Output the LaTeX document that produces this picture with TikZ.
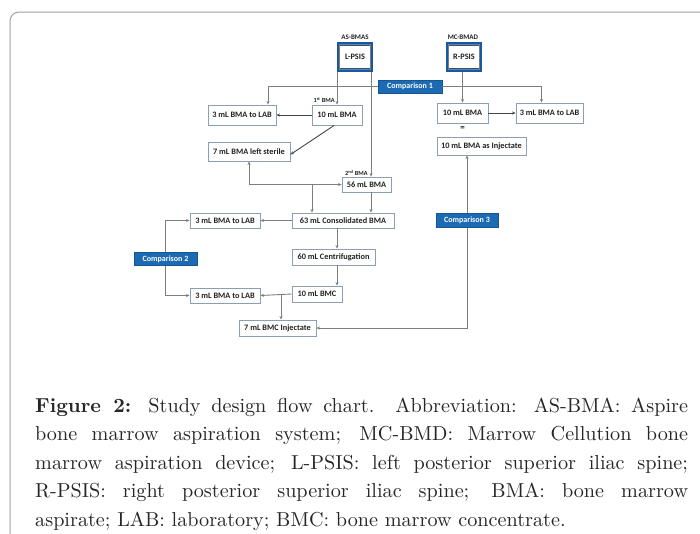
\documentclass[tikz,border=0pt]{standalone}
\usepackage{fontspec}
\usepackage{graphicx}
\newfontfamily\boxfont{Carlito}
\usetikzlibrary{arrows.meta,calc}
\definecolor{cmpblue}{RGB}{28,106,180}
\definecolor{psisblue}{RGB}{24,88,160}
\definecolor{boxedge}{RGB}{140,158,178}
\definecolor{linegray}{RGB}{125,125,125}
\definecolor{txt}{RGB}{35,35,35}
\definecolor{framegray}{RGB}{160,160,160}
\tikzset{
 box/.style={draw=boxedge, line width=0.9pt, fill=white, inner sep=0pt, font=\boxfont\bfseries\fontsize{8.3}{10}\selectfont, text=txt},
 cmp/.style={fill=cmpblue, draw=cmpblue!80!black, line width=0.5pt, inner sep=0pt, text=white, font=\boxfont\bfseries\fontsize{8}{10}\selectfont},
 psis/.style={draw=psisblue, line width=3.5pt, fill=white, minimum width=33, minimum height=26, inner sep=0pt, font=\boxfont\bfseries\fontsize{8.3}{10}\selectfont, text=txt},
 small/.style={font=\boxfont\bfseries\fontsize{7}{8}\selectfont, text=txt, inner sep=0pt},
 tiny/.style={font=\boxfont\bfseries\fontsize{6.3}{7}\selectfont, text=txt, inner sep=0pt},
 conn/.style={draw=linegray, line width=0.9pt},
 arr/.style={conn, -{Stealth[length=3.5pt,width=3pt]}},
 arrd/.style={conn, {Stealth[length=3.5pt,width=3pt]}-{Stealth[length=3.5pt,width=3pt]}},
 dark/.style={draw=txt!85},
 capline/.style={anchor=base west, inner sep=0pt, text=black!85, font=\fontsize{10}{12}\selectfont}
}
\newcommand{\capl}[1]{\scalebox{2.02}{\makebox[323.2pt][s]{#1}}}
\begin{document}
\begin{tikzpicture}[x=1pt,y=-1pt]
\useasboundingbox (0,0) rectangle (700,533);
\draw[framegray, line width=1pt, rounded corners=9pt] (10,560) -- (10,12) -- (730,12);

% headers
\node[small] (hasb) at (355,37) {AS-BMAS};
\node[small] (hmcb) at (463,37) {MC-BMAD};
\node[psis] (lpsis) at (355,57) {L-PSIS};
\node[psis] (rpsis) at (464,57) {R-PSIS};
\draw[linegray, line width=0.6pt] ($(lpsis.south west)+(2.5,-2.5)$) rectangle ($(lpsis.north east)+(-2.5,2.5)$);
\draw[linegray, line width=0.6pt] ($(rpsis.south west)+(2.5,-2.5)$) rectangle ($(rpsis.north east)+(-2.5,2.5)$);

\node[cmp, minimum width=64, minimum height=13] (c1) at (410,86.5) {Comparison 1};

% left column
\node[box, minimum width=50, minimum height=20] (bmaL) at (337,115) {10 mL BMA};
\node[box, minimum width=68, minimum height=20] (labA) at (242,115) {3 mL BMA to LAB};
\node[box, minimum width=82, minimum height=19] (sterile) at (249,151.5) {7 mL BMA left sterile};
\node[box, minimum width=49, minimum height=15] (b56) at (366.5,184.5) {56 mL BMA};
\node[box, minimum width=102, minimum height=15] (b63) at (343,220.5) {63 mL Consolidated BMA};
\node[box, minimum width=70, minimum height=15] (labB) at (225,220.5) {3 mL BMA to LAB};
\node[box, minimum width=83, minimum height=16] (cent) at (333.5,257) {60 mL Centrifugation};
\node[cmp, minimum width=63, minimum height=13] (c2) at (165.5,259) {Comparison 2};
\node[box, minimum width=50, minimum height=16] (bmc) at (317,294) {10 mL BMC};
\node[box, minimum width=70, minimum height=15] (labC) at (225,295.5) {3 mL BMA to LAB};
\node[box, minimum width=77, minimum height=16] (inj) at (277.5,328) {7 mL BMC Injectate};

\node[tiny, anchor=east] (l1st) at (335,100) {1\textsuperscript{st} BMA};
\node[tiny, anchor=east] (l2nd) at (368,173) {2\textsuperscript{nd} BMA};

% right column
\node[box, minimum width=51, minimum height=20] (bmaR) at (462.5,113) {10 mL BMA};
\node[box, minimum width=67, minimum height=20] (labD) at (549.5,113) {3 mL BMA to LAB};
\node[small, font=\boxfont\bfseries\fontsize{9}{10}\selectfont] (eq) at (462.5,128.5) {=};
\node[box, minimum width=89, minimum height=18] (injR) at (481.5,146) {10 mL BMA as Injectate};

% coordinates
\coordinate (colA) at (337,72);
\coordinate (colB) at (371,72);
\coordinate (colC) at (337,228);
\coordinate (j1) at (312,184.5);
\coordinate (j2) at (281,294);
\coordinate (colR) at (467,155);

% connectors
\draw[arr] (colA |- lpsis.south) -- (colA |- bmaL.north);
\draw[arr] (colB |- lpsis.south) -- (colB |- b56.north);
\draw[arr] (c1.west) -| ([xshift=26pt]labA.north);
\draw[arr] (c1.east) -| ([xshift=-8pt]labD.north);
\draw[arr, dark] (bmaL.west) -- (labA.east);
\draw[arr, dark] ([xshift=-3pt]bmaL.south) -- ([yshift=-3pt]sterile.east);
\draw[arrd] (sterile.south) |- (b56.west);
\draw[arr] (j1) -- (j1 |- b63.north);
\draw[arr] (colB |- b56.south) -- (colB |- b63.north);
\draw[arr] (b63.west) -- (labB.east);
\draw[arr] (colC |- b63.south) -- (colC |- cent.north);
\draw[arr] (colC |- cent.south) -- (colC |- bmc.north);
\draw[arr] (bmc.west) -- (labC.east);
\draw[arr] (j2) -- (j2 |- inj.north);
\draw[arr] (c2.north) |- (labB.west);
\draw[arr] (c2.south) |- (labC.west);
\draw[arr] (rpsis.south -| bmaR.north) -- (bmaR.north);
\draw[arr, dark] (bmaR.east) -- (labD.west);
\draw[arrd] (colR |- injR.south) |- (inj.east);
\node[cmp, minimum width=62, minimum height=14] (c3) at (467,220) {Comparison 3};

% caption
\node[capline] (cap1) at (35,412) {\capl{\textbf{Figure 2:} Study design flow chart. Abbreviation: AS-BMA: Aspire}};
\node[capline] (cap2) at (35,440.5) {\capl{bone marrow aspiration system; MC-BMD: Marrow Cellution bone}};
\node[capline] (cap3) at (35,469) {\capl{marrow aspiration device; L-PSIS: left posterior superior iliac spine;}};
\node[capline] (cap4) at (35,497.5) {\capl{R-PSIS: right posterior superior iliac spine; BMA: bone marrow}};
\node[capline] (cap5) at (35,526) {\scalebox{2.02}{aspirate; LAB: laboratory; BMC: bone marrow concentrate.}};
\end{tikzpicture}
\end{document}
